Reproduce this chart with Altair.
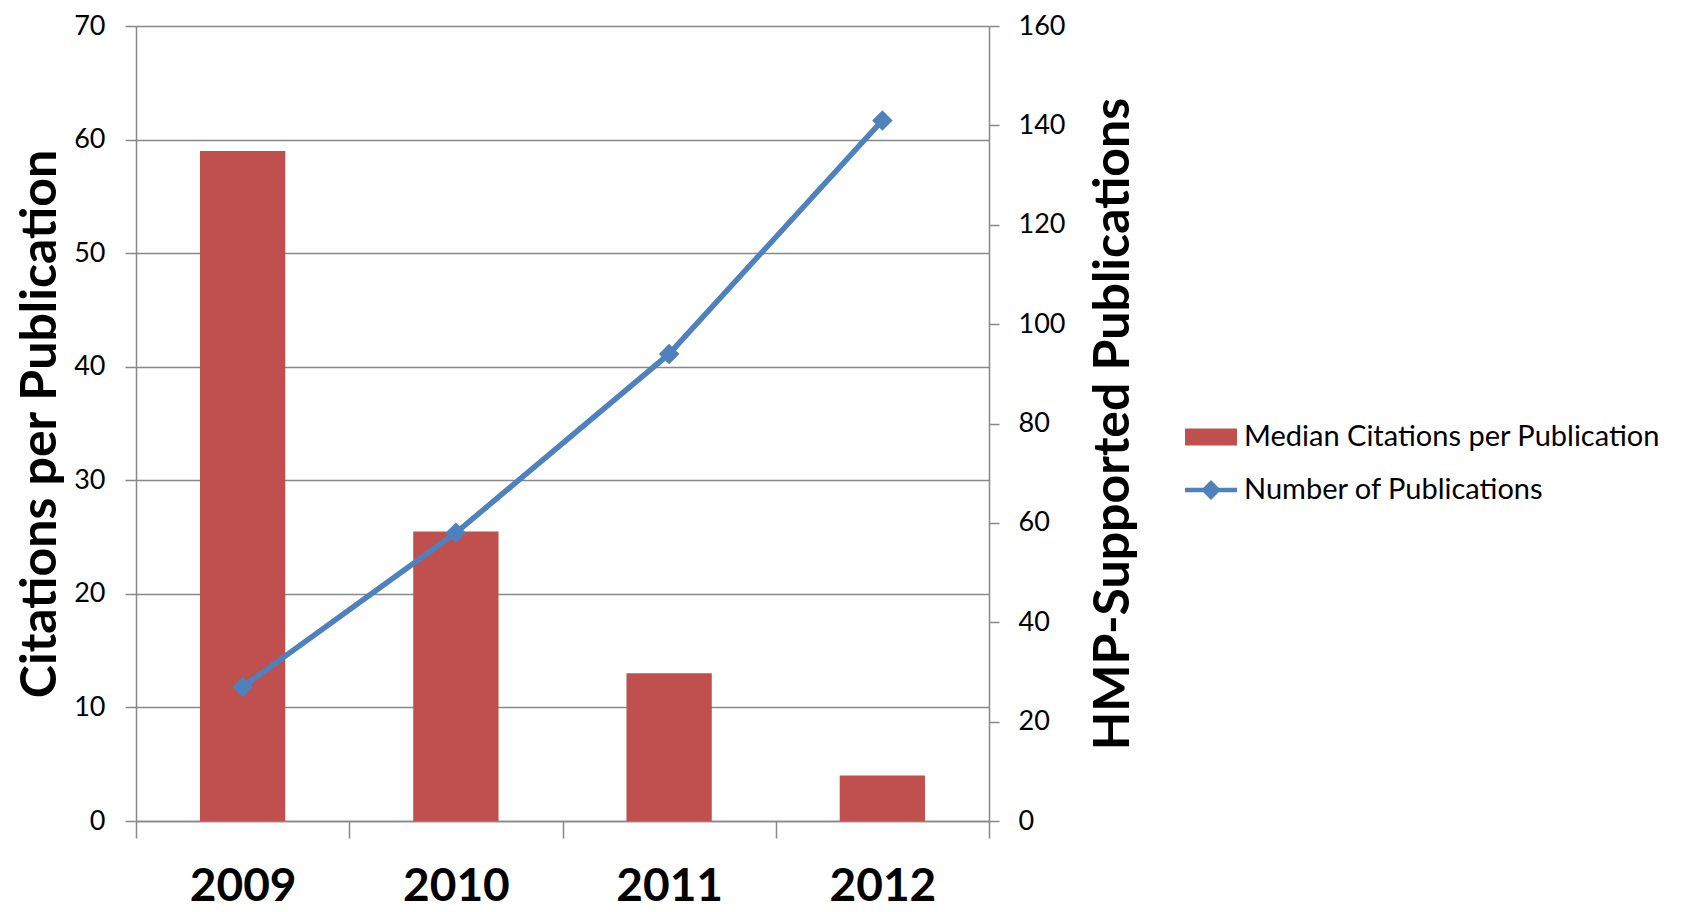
import altair as alt
import pandas as pd

years = ["2009", "2010", "2011", "2012"]
median_citations = [59, 25.5, 13, 4]
num_publications = [27, 58, 94, 141]
bar_series = "Median Citations per Publication"
line_series = "Number of Publications"
left_ticks = [0, 10, 20, 30, 40, 50, 60, 70]
right_ticks = [0, 20, 40, 60, 80, 100, 120, 140, 160]

df = pd.DataFrame({
    "year": years,
    "median": median_citations,
    "pubs": num_publications,
    "bar_series": [bar_series] * len(years),
    "line_series": [line_series] * len(years),
})

RED = "#C0504D"
BLUE = "#4F81BD"
GRID = "#888888"
FONT = "Lato"

x_enc = alt.X(
    "year:N",
    sort=years,
    scale=alt.Scale(paddingInner=0, paddingOuter=0),
    axis=alt.Axis(
        title=None, tickBand="extent", tickSize=17, tickColor=GRID, tickWidth=1.5,
        domainColor=GRID, domainWidth=1.5, labelFont=FONT, labelFontSize=46,
        labelFontWeight="bold", labelColor="black", labelPadding=26, labelAngle=0,
        grid=False,
    ),
)

right_axis = alt.Axis(
    orient="right", values=right_ticks, title="HMP-Supported Publications",
    titleFont=FONT, titleFontSize=50, titleFontWeight="bold", titleColor="black",
    titleAngle=270, titleBaseline="top", titlePadding=24,
    labelFont=FONT, labelFontSize=27, labelColor="black", labelPadding=19,
    tickSize=10, tickColor=GRID, tickWidth=1.5,
    domainColor=GRID, domainWidth=1.5, grid=False,
)
right_scale = alt.Scale(domain=[0, 160], nice=False)

base = alt.Chart(df).encode(x=x_enc)

bars = base.mark_bar(width=alt.RelativeBandSize(0.4)).encode(
    y=alt.Y(
        "median:Q",
        scale=alt.Scale(domain=[0, 70], nice=False),
        axis=alt.Axis(
            orient="left", values=left_ticks, title="Citations per Publication",
            titleFont=FONT, titleFontSize=50, titleFontWeight="bold", titleColor="black",
            titlePadding=8, labelFont=FONT, labelFontSize=27, labelColor="black",
            labelPadding=20, tickSize=11, tickColor=GRID, tickWidth=1.5,
            domainColor=GRID, domainWidth=1.5, grid=True, gridColor=GRID, gridWidth=1.5,
        ),
    ),
    fill=alt.Fill(
        "bar_series:N",
        scale=alt.Scale(domain=[bar_series], range=[RED]),
        legend=alt.Legend(
            title=None, orient="none", legendX=1049, legendY=385, padding=0,
            symbolType="M-1,-0.33H1V0.33H-1Z", symbolSize=2704, symbolStrokeWidth=0,
            labelFont=FONT, labelFontSize=29, labelColor="black", labelOffset=7,
            labelLimit=600,
        ),
    ),
)

line = base.mark_line(strokeWidth=5.5).encode(
    y=alt.Y("pubs:Q", scale=right_scale, axis=right_axis),
    stroke=alt.Stroke(
        "line_series:N",
        scale=alt.Scale(domain=[line_series], range=[BLUE]),
        legend=alt.Legend(
            title=None, orient="none", legendX=1049, legendY=438, padding=0,
            symbolType="M-1,-0.09H1V0.09H-1Z M-0.38,0L0,-0.38L0.38,0L0,0.38Z",
            symbolSize=2704, symbolFillColor=BLUE, symbolStrokeWidth=0,
            labelFont=FONT, labelFontSize=29, labelColor="black", labelOffset=7,
            labelLimit=600,
        ),
    ),
)

points = base.mark_point(shape="diamond", filled=True, size=420, opacity=1, color=BLUE).encode(
    y=alt.Y("pubs:Q", scale=right_scale, axis=right_axis),
)

right = alt.layer(line, points)

chart = (
    alt.layer(bars, right)
    .resolve_scale(y="independent")
    .properties(width=853, height=795, padding={"left": 7, "top": 4, "right": 5, "bottom": 0})
    .configure_view(strokeWidth=0)
    .configure(background="white")
)

chart.save("out.html", embed_options={"renderer": "svg", "actions": False})
